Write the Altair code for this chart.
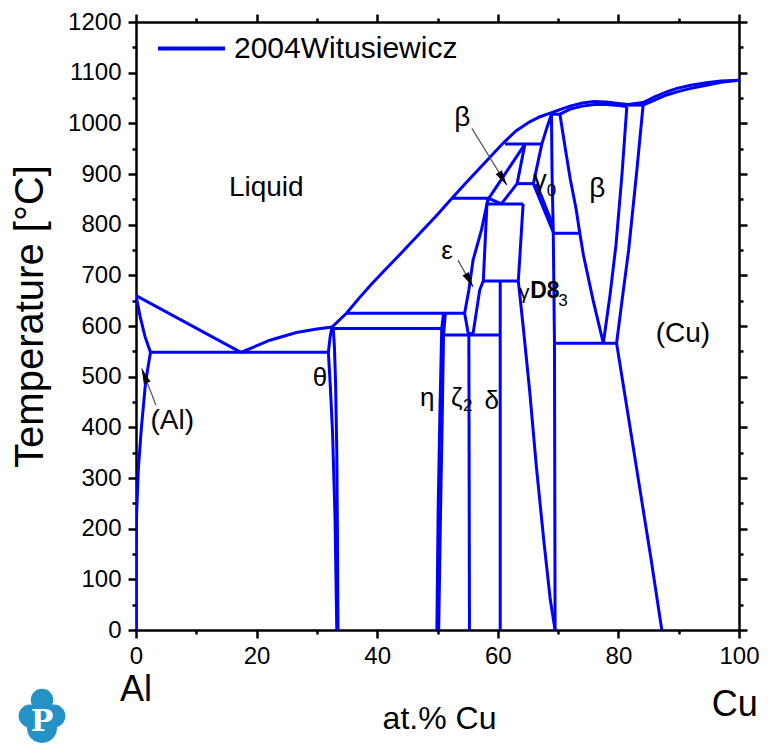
import altair as alt
import pandas as pd

FONT = "Liberation Sans"
BLUE = "#0000FF"

# ---------------- phase boundaries (x = at.% Cu, T = degC) ----------------
AL_LIQ_X = [0, 17.4]
AL_LIQ_T = [660, 548]
AL_SOL_X = [0, 0.7, 1.5, 2.4]
AL_SOL_T = [660, 618, 579, 548]
AL_SOLV_X = [2.4, 1.6, 0.9, 0.4, 0.1, 0, 0]
AL_SOLV_T = [548, 490, 400, 320, 230, 150, 0]
EUT_X = [2.4, 31.9]
EUT_T = [548, 548]

LIQ_X = [17.4, 22.2, 26.6, 30.0, 32.5, 34.9, 37, 39, 41, 44, 47, 50, 52.4, 55, 58, 60.9, 63, 65.3, 67, 68.7,
         70.3, 72, 74, 76, 78, 80, 81.6]
LIQ_T = [548, 572, 587, 594, 598, 625, 655, 682, 707, 744, 782, 820, 852, 886, 924, 961, 985, 1003, 1013, 1020,
         1027, 1034, 1040, 1043, 1042, 1039, 1037]
CU_LIQ_X = [81.6, 84.1, 86, 88, 89.7, 92, 94.6, 97, 100]
CU_LIQ_T = [1037, 1041, 1052, 1062, 1069, 1075, 1080, 1083.5, 1085]
CU_SOL_X = [84.1, 86, 88, 90, 92, 94.6, 97, 100]
CU_SOL_T = [1036, 1046, 1056, 1063, 1069, 1075, 1081, 1085]
B_SOL_X = [70.3, 72, 74, 76, 78, 80, 81.4]
B_SOL_T = [1018, 1028, 1034, 1037, 1037, 1035, 1033]
H1018_X = [68.8, 70.3]
H1018_T = [1018, 1018]
H1036_X = [81.4, 84.1]
H1036_T = [1036, 1036]

B_LEFT_X = [70.3, 71.2, 72.0, 73.0, 73.6, 74.2, 75.8, 77.5]
B_LEFT_T = [1018, 950, 891, 830, 783, 740, 651, 566]
B_RIGHT_X = [81.4, 80.6, 79.6, 78.6, 77.5]
B_RIGHT_T = [1033, 900, 760, 660, 566]
CU_LEFT_X = [84.1, 83.0, 81.7, 80.6, 79.7]
CU_LEFT_T = [1036, 900, 750, 650, 566]
CU_SOLV_X = [79.7, 81.6, 83.5, 85.4, 87.2]
CU_SOLV_T = [566, 425, 283, 141, 0]
H566_X = [69.4, 79.7]
H566_T = [566, 566]
H783_X = [69.2, 73.6]
H783_T = [783, 783]
G_RIGHT_X = [68.9, 69.0, 69.2, 69.4, 69.5]
G_RIGHT_T = [1018, 900, 783, 566, 0]

G0_B_X = [68.9, 68.1, 67.3, 66.6, 65.9]
G0_B_T = [1018, 990, 959, 920, 881]
H959_X = [61.2, 67.3]
H959_T = [959, 959]
BS_A_X = [64.5, 58.5]
BS_A_T = [959, 852]
BS_C_X = [64.5, 63.2]
BS_C_T = [959, 881]
H881_X = [63.2, 65.9]
H881_T = [881, 881]
BS_D_X = [63.2, 60.6]
BS_D_T = [881, 841]
F1_X = [65.9, 69.2]
F1_T = [881, 785]
F2_X = [66.4, 69.1]
F2_T = [881, 800]
H852_X = [52.4, 58.5]
H852_T = [852, 852]
DIAG_X = [58.5, 60.6]
DIAG_T = [852, 841]
H841_X = [58.2, 64.2]
H841_T = [841, 841]

EPS_R_X = [58.5, 58.2, 57.6, 57.0, 55.9]
EPS_R_T = [852, 841, 689, 671, 585]
EPS_L_X = [58.4, 57.3, 55.9, 55.2, 54.5]
EPS_L_T = [852, 790, 730, 671, 625]
EPS_LL_X = [54.5, 55.1]
EPS_LL_T = [625, 585]
EPS_B_X = [55.1, 55.9]
EPS_B_T = [585, 585]
H689_X = [57.6, 63.4]
H689_T = [689, 689]
G_LU_X = [64.2, 63.4]
G_LU_T = [841, 689]
G_LL_X = [63.4, 64.2, 65.3, 66.4, 67.6, 68.7, 69.5]
G_LL_T = [689, 600, 470, 322, 180, 60, 0]
DELTA_X = [60.4, 60.4]
DELTA_T = [689, 0]
ZETA_X = [55.2, 55.3]
ZETA_T = [585, 0]
H582_X = [51.0, 60.4]
H582_T = [582, 582]
H625_X = [34.9, 54.5]
H625_T = [625, 625]
H595_X = [32.6, 50.9]
H595_T = [595, 595]
ETA_L_X = [51.0, 50.7, 50.4, 50.1, 49.9]
ETA_L_T = [625, 595, 430, 230, 0]
ETA_R_X = [51.3, 51.0, 50.8, 50.5, 50.2]
ETA_R_T = [625, 582, 430, 230, 0]
TH_L_X = [32.5, 32.2, 31.9, 32.2, 32.6, 33.0, 33.3]
TH_L_T = [598, 579, 548, 487, 388, 224, 0]
TH_R_X = [32.7, 32.9, 33.1, 33.3, 33.4, 33.5]
TH_R_T = [598, 560, 487, 350, 200, 0]

LINES = [
    ("al_liq", AL_LIQ_X, AL_LIQ_T), ("al_sol", AL_SOL_X, AL_SOL_T), ("al_solv", AL_SOLV_X, AL_SOLV_T),
    ("eut", EUT_X, EUT_T), ("liq", LIQ_X, LIQ_T), ("cu_liq", CU_LIQ_X, CU_LIQ_T), ("cu_sol", CU_SOL_X, CU_SOL_T),
    ("b_sol", B_SOL_X, B_SOL_T), ("h1018", H1018_X, H1018_T), ("h1036", H1036_X, H1036_T),
    ("b_left", B_LEFT_X, B_LEFT_T), ("b_right", B_RIGHT_X, B_RIGHT_T), ("cu_left", CU_LEFT_X, CU_LEFT_T),
    ("cu_solv", CU_SOLV_X, CU_SOLV_T), ("h566", H566_X, H566_T), ("h783", H783_X, H783_T),
    ("g_right", G_RIGHT_X, G_RIGHT_T), ("g0_b", G0_B_X, G0_B_T), ("h959", H959_X, H959_T),
    ("bs_a", BS_A_X, BS_A_T), ("bs_c", BS_C_X, BS_C_T), ("h881", H881_X, H881_T), ("bs_d", BS_D_X, BS_D_T),
    ("f1", F1_X, F1_T), ("f2", F2_X, F2_T), ("h852", H852_X, H852_T), ("diag", DIAG_X, DIAG_T),
    ("h841", H841_X, H841_T), ("eps_r", EPS_R_X, EPS_R_T), ("eps_l", EPS_L_X, EPS_L_T),
    ("eps_ll", EPS_LL_X, EPS_LL_T), ("eps_b", EPS_B_X, EPS_B_T), ("h689", H689_X, H689_T),
    ("g_lu", G_LU_X, G_LU_T), ("g_ll", G_LL_X, G_LL_T), ("delta", DELTA_X, DELTA_T), ("zeta", ZETA_X, ZETA_T),
    ("h582", H582_X, H582_T), ("h625", H625_X, H625_T), ("h595", H595_X, H595_T),
    ("eta_l", ETA_L_X, ETA_L_T), ("eta_r", ETA_R_X, ETA_R_T), ("th_l", TH_L_X, TH_L_T), ("th_r", TH_R_X, TH_R_T),
]

# ---------------- annotations ----------------
LABEL_TEXT = ["Liquid", "β", "β", "ε", "(Cu)", "θ", "η", "δ", "(Al)", "γ", "ζ"]
LABEL_X = [21.6, 54.1, 76.5, 51.6, 90.7, 30.5, 48.3, 59.0, 6.0, 67.0, 53.2]
LABEL_T = [872, 1010, 870, 748, 584, 497, 458, 452, 412, 886, 458]
LABEL_SIZE = [28, 28, 28, 26, 28, 26, 26, 26, 28, 27, 26]
SUB_TEXT = ["0", "2", "3"]
SUB_X = [68.9, 55.0, 70.8]
SUB_T = [866, 442, 650]
SUB_SIZE = [17, 17, 17]
BOLD_TEXT = ["D8"]
BOLD_X = [67.8]
BOLD_T = [670]
GD_TEXT = ["γ"]
GD_X = [64.4]
GD_T = [666]

ARROW_SEG = ["beta", "beta", "eps", "eps", "al", "al"]
ARROW_X = [55.7, 61.5, 53.4, 55.9, 3.3, 0.95]
ARROW_T = [990, 878, 730, 677, 444, 516]
HEAD_X = [61.5, 55.9, 0.95]
HEAD_T = [878, 677, 516]
HEAD_ANGLE = [148, 151, 339]

END_TEXT = ["Al", "Cu"]
END_X = [0, 99.3]
END_PIX_Y = [668, 683]

SERIES = "2004Witusiewicz"

X_TICKS = list(range(0, 101, 10))
Y_TICKS = list(range(0, 1201, 50))

# ---------------- build tables ----------------
rows = []
for name, xs_, ts_ in LINES:
    for i, (xv, tv) in enumerate(zip(xs_, ts_)):
        rows.append({"seg": name, "x": xv, "T": tv, "o": i, "src": SERIES})
df = pd.DataFrame(rows)

lab_df = pd.DataFrame({"text": LABEL_TEXT, "x": LABEL_X, "T": LABEL_T, "size": LABEL_SIZE})
sub_df = pd.DataFrame({"text": SUB_TEXT, "x": SUB_X, "T": SUB_T, "size": SUB_SIZE})
bold_df = pd.DataFrame({"text": BOLD_TEXT, "x": BOLD_X, "T": BOLD_T})
gd_df = pd.DataFrame({"text": GD_TEXT, "x": GD_X, "T": GD_T})
arr_df = pd.DataFrame({"seg": ARROW_SEG, "x": ARROW_X, "T": ARROW_T, "o": list(range(len(ARROW_X)))})
head_df = pd.DataFrame({"x": HEAD_X, "T": HEAD_T, "ang": HEAD_ANGLE})
end_df = pd.DataFrame({"text": END_TEXT, "x": END_X, "py": END_PIX_Y})

xs = alt.Scale(domain=[0, 100], nice=False, zero=False)
ys = alt.Scale(domain=[0, 1200], nice=False, zero=False)

X_TICK_SIZE = {"condition": {"test": "datum.value % 20 === 0", "value": 8}, "value": 4}
Y_TICK_SIZE = {"condition": {"test": "datum.value % 100 === 0", "value": 8}, "value": 4}
common_axis = dict(tickColor="black", tickWidth=2.5, domainColor="black", domainWidth=2.5, grid=False,
                   labelOverlap=False)

ax_bottom = alt.Axis(orient="bottom", values=X_TICKS, tickSize=X_TICK_SIZE, labelFontSize=24,
                     labelExpr="datum.value % 20 === 0 ? datum.label : ''", format="d",
                     labelFont=FONT, labelColor="black", labelPadding=6, labelFlush=False,
                     title="at.% Cu", titleFont=FONT, titleFontSize=32, titleFontWeight="normal",
                     titleColor="black", titleX=303, titleY=88, titleBaseline="middle", titleAlign="center",
                     **common_axis)
ax_left = alt.Axis(orient="left", values=Y_TICKS, tickSize=Y_TICK_SIZE, labelFontSize=24,
                   labelExpr="datum.value % 100 === 0 ? datum.label : ''", format="d",
                   labelFont=FONT, labelColor="black", labelPadding=7, labelFlush=False,
                   title="Temperature [°C]", titleFont=FONT, titleFontSize=40, titleFontWeight="normal",
                   titleColor="black", titleAngle=270, titleX=-106, titleY=294, titleBaseline="middle",
                   titleAlign="center", **common_axis)
ax_top = alt.Axis(orient="top", values=X_TICKS, tickSize=X_TICK_SIZE, labels=False, title=None,
                  **common_axis)
ax_right = alt.Axis(orient="right", values=Y_TICKS, tickSize=Y_TICK_SIZE, labels=False, title=None,
                    **common_axis)

lines = alt.Chart(df).mark_line(strokeWidth=3, clip=True).encode(
    x=alt.X("x:Q", scale=xs, axis=ax_bottom),
    y=alt.Y("T:Q", scale=ys, axis=ax_left),
    detail="seg:N",
    order="o:Q",
    color=alt.Color("src:N", scale=alt.Scale(range=[BLUE]),
                    legend=alt.Legend(orient="none", legendX=20, legendY=-9, title=None, symbolType="stroke",
                                      symbolSize=4489, symbolStrokeWidth=4, labelFontSize=30, labelFont=FONT,
                                      labelColor="black", labelOffset=7, padding=0, labelLimit=600)),
)

mirror = alt.Chart(df).mark_point(opacity=0, size=1).encode(
    x=alt.X("x:Q", scale=xs, axis=ax_top), y=alt.Y("T:Q", scale=ys, axis=ax_right))

X_NOAX = dict(scale=xs, axis=None)
Y_NOAX = dict(scale=ys, axis=None)

labels = alt.Chart(lab_df).mark_text(font=FONT, color="black", baseline="middle", align="center").encode(
    x=alt.X("x:Q", **X_NOAX), y=alt.Y("T:Q", **Y_NOAX), text="text:N",
    size=alt.Size("size:Q", scale=None))
subs = alt.Chart(sub_df).mark_text(font=FONT, color="black", baseline="middle", align="center").encode(
    x=alt.X("x:Q", **X_NOAX), y=alt.Y("T:Q", **Y_NOAX), text="text:N",
    size=alt.Size("size:Q", scale=None))
bold = alt.Chart(bold_df).mark_text(font=FONT, color="black", baseline="middle", align="center",
                                    fontWeight="bold", fontSize=23).encode(
    x=alt.X("x:Q", **X_NOAX), y=alt.Y("T:Q", **Y_NOAX), text="text:N")
gd = alt.Chart(gd_df).mark_text(font=FONT, color="black", baseline="middle", align="center",
                                fontSize=21).encode(
    x=alt.X("x:Q", **X_NOAX), y=alt.Y("T:Q", **Y_NOAX), text="text:N")

arrows = alt.Chart(arr_df).mark_line(color="#555555", strokeWidth=1.2).encode(
    x=alt.X("x:Q", **X_NOAX), y=alt.Y("T:Q", **Y_NOAX), detail="seg:N", order="o:Q")
heads = alt.Chart(head_df).mark_point(shape="M0,0 L0.45,1.9 L-0.45,1.9 Z", filled=True, color="black",
                                      opacity=1, size=256).encode(
    x=alt.X("x:Q", **X_NOAX), y=alt.Y("T:Q", **Y_NOAX), angle=alt.Angle("ang:Q", scale=None))

ends = alt.Chart(end_df).mark_text(font=FONT, fontSize=36, color="black", baseline="middle",
                                   align="center").encode(
    x=alt.X("x:Q", **X_NOAX), y=alt.Y("py:Q", scale=None, axis=None), text="text:N")

# small decorative logo (bottom-left)
logo_df = pd.DataFrame({"px": [-94, -106, -82, -94, -94], "py": [678, 694, 694, 706, 698],
                        "s": [500, 520, 520, 900, 1000]})
logo = alt.Chart(logo_df).mark_circle(color="#2592C6", opacity=1).encode(
    x=alt.X("px:Q", scale=None, axis=None), y=alt.Y("py:Q", scale=None, axis=None),
    size=alt.Size("s:Q", scale=None))
logo_p = alt.Chart(pd.DataFrame({"t": ["P"]})).mark_text(
    font="DejaVu Serif", fontWeight="bold", fontSize=30, color="white", baseline="middle",
    align="center").encode(x=alt.value(-94), y=alt.value(700), text="t:N")

chart = alt.layer(
    lines, mirror, labels, subs, bold, gd, arrows, heads, ends, logo, logo_p
).resolve_axis(x="independent", y="independent").properties(
    width=603, height=608,
    padding={"left": 136, "top": 22, "right": 32, "bottom": 116},
    autosize=alt.AutoSizeParams(type="none"),
).configure_view(strokeWidth=0).configure(background="white")

chart.save("out.html", embed_options={"renderer": "svg", "actions": False})
